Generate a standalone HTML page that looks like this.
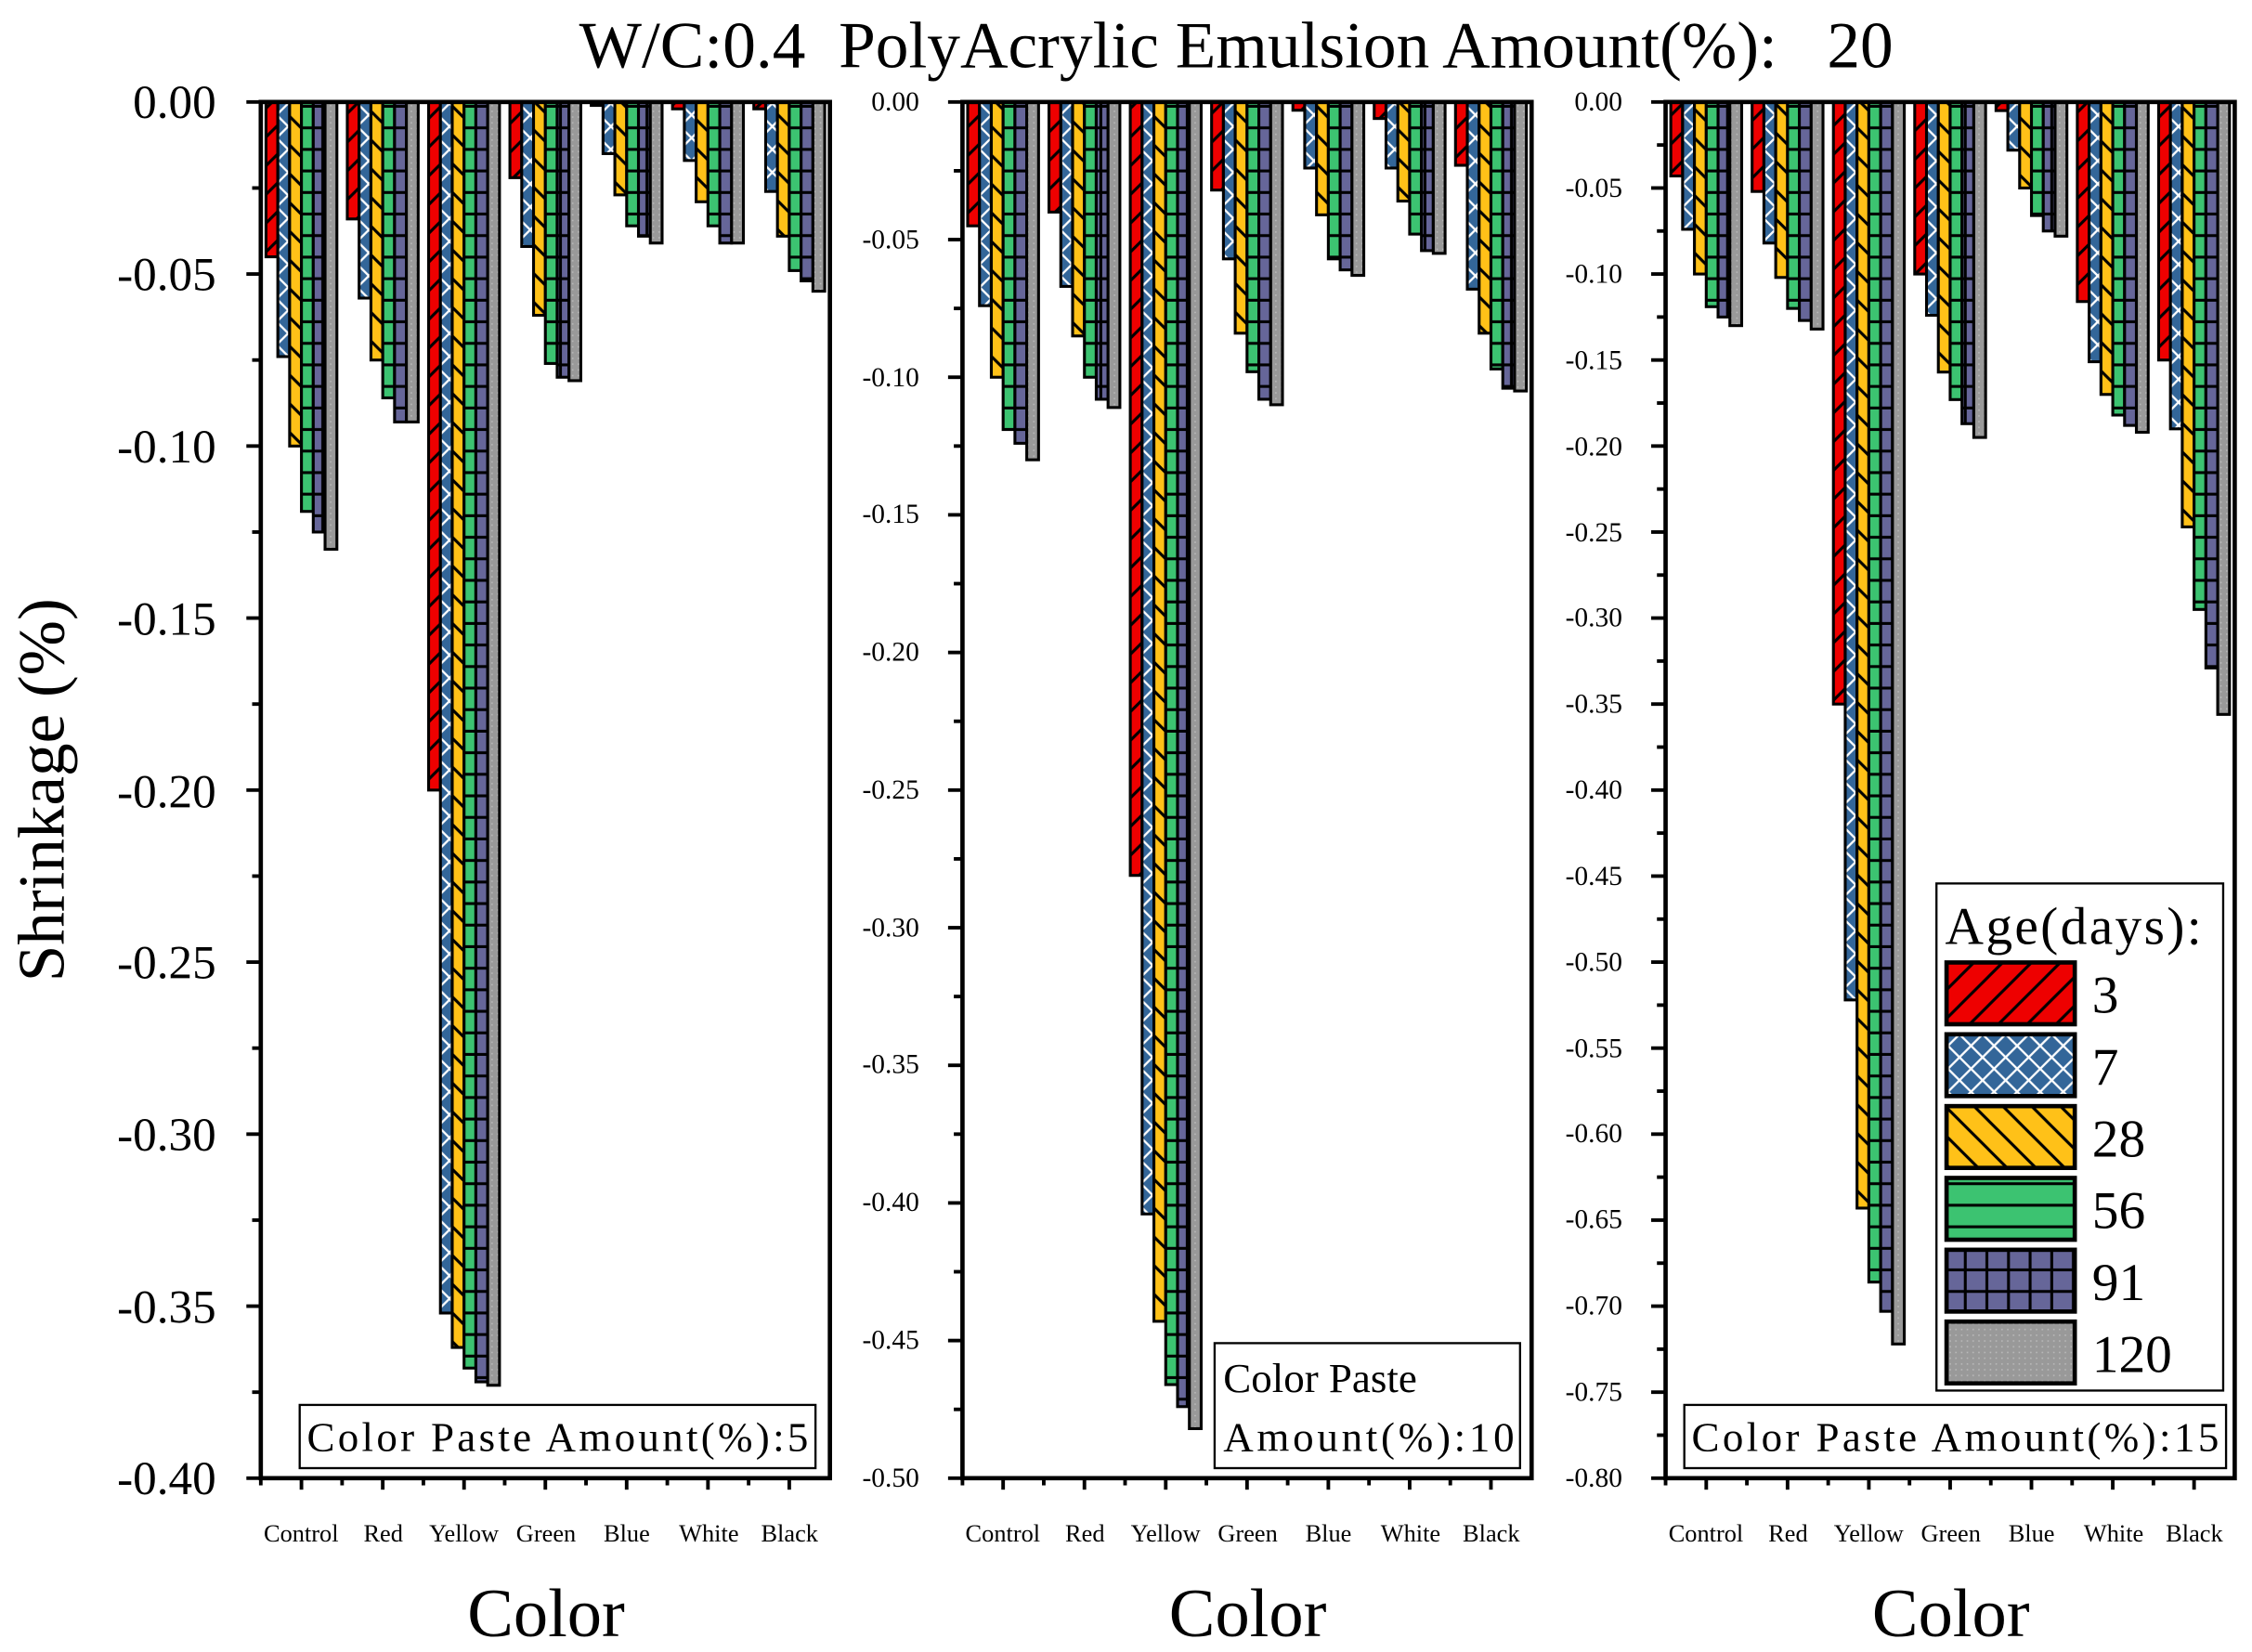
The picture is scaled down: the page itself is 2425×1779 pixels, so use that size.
<!DOCTYPE html>
<html><head><meta charset="utf-8"><style>html,body{margin:0;padding:0;background:#fff}svg{display:block}</style></head>
<body>
<svg id="s" width="2425" height="1779" viewBox="0 0 1563 1150" preserveAspectRatio="none" xmlns="http://www.w3.org/2000/svg" font-family="'Liberation Serif',serif">
<defs>
<pattern id="p0" patternUnits="userSpaceOnUse" width="20" height="20"><rect width="20" height="20" fill="#ee0000"/><path d="M-5 25L25 -5M-15 15L15 -15M5 35L35 5" stroke="#000" stroke-width="2"/></pattern>
<pattern id="p1" patternUnits="userSpaceOnUse" width="16" height="16"><rect width="16" height="16" fill="#336699"/><path d="M0 0L16 16M16 0L0 16" stroke="#fff" stroke-width="1.5"/></pattern>
<pattern id="p2" patternUnits="userSpaceOnUse" width="20" height="20"><rect width="20" height="20" fill="#ffc118"/><path d="M-5 -5L25 25M-15 5L15 35M5 -15L35 15" stroke="#000" stroke-width="2"/></pattern>
<pattern id="p3" patternUnits="userSpaceOnUse" width="20" height="15"><rect width="20" height="15" fill="#3cc371"/><path d="M0 14L20 14" stroke="#000" stroke-width="2"/></pattern>
<pattern id="p4" patternUnits="userSpaceOnUse" width="15" height="15"><rect width="15" height="15" fill="#666699"/><path d="M0 14L15 14M14 0L14 15" stroke="#000" stroke-width="2"/></pattern>
<pattern id="p5" patternUnits="userSpaceOnUse" width="4" height="4"><rect width="4" height="4" fill="#999"/><rect x="1" y="1" width="1" height="1" fill="#bbb"/></pattern>
</defs>
<g id="bars"></g>
<g id="axes" fill="none" stroke="#000" stroke-width="3">
<rect x="181" y="71" width="395" height="958"/>
<rect x="668" y="71" width="395" height="958"/>
<rect x="1156" y="71" width="395" height="958"/>
</g>
<g id="ticks" stroke="#000" stroke-width="2.5"></g>
<text x="858" y="47" font-size="46" text-anchor="middle" xml:space="preserve">W/C:0.4  PolyAcrylic Emulsion Amount(%):   20</text>
<text transform="translate(44,550) rotate(-90)" font-size="46" text-anchor="middle">Shrinkage (%)</text>
<g font-size="48" text-anchor="middle"><text x="379" y="1139">Color</text><text x="866" y="1139">Color</text><text x="1354" y="1139">Color</text></g>
<g font-size="33" text-anchor="end">
<text x="150" y="82">0.00</text><text x="150" y="202">-0.05</text><text x="150" y="322">-0.10</text><text x="150" y="442">-0.15</text><text x="150" y="562">-0.20</text><text x="150" y="681">-0.25</text><text x="150" y="801">-0.30</text><text x="150" y="921">-0.35</text><text x="150" y="1040">-0.40</text>
</g>
<g font-size="19" text-anchor="end">
<text x="638" y="77">0.00</text><text x="638" y="173">-0.05</text><text x="638" y="269">-0.10</text><text x="638" y="364">-0.15</text><text x="638" y="460">-0.20</text><text x="638" y="556">-0.25</text><text x="638" y="652">-0.30</text><text x="638" y="747">-0.35</text><text x="638" y="843">-0.40</text><text x="638" y="939">-0.45</text><text x="638" y="1035">-0.50</text>
<text x="1126" y="77">0.00</text><text x="1126" y="137">-0.05</text><text x="1126" y="197">-0.10</text><text x="1126" y="257">-0.15</text><text x="1126" y="317">-0.20</text><text x="1126" y="377">-0.25</text><text x="1126" y="436">-0.30</text><text x="1126" y="496">-0.35</text><text x="1126" y="556">-0.40</text><text x="1126" y="616">-0.45</text><text x="1126" y="676">-0.50</text><text x="1126" y="736">-0.55</text><text x="1126" y="795">-0.60</text><text x="1126" y="855">-0.65</text><text x="1126" y="915">-0.70</text><text x="1126" y="975">-0.75</text><text x="1126" y="1035">-0.80</text>
</g>
<g font-size="17" text-anchor="middle">
<text x="209" y="1073">Control</text><text x="266" y="1073">Red</text><text x="322" y="1073">Yellow</text><text x="379" y="1073">Green</text><text x="435" y="1073">Blue</text><text x="492" y="1073">White</text><text x="548" y="1073">Black</text>
<text x="696" y="1073">Control</text><text x="753" y="1073">Red</text><text x="809" y="1073">Yellow</text><text x="866" y="1073">Green</text><text x="922" y="1073">Blue</text><text x="979" y="1073">White</text><text x="1035" y="1073">Black</text>
<text x="1184" y="1073">Control</text><text x="1241" y="1073">Red</text><text x="1297" y="1073">Yellow</text><text x="1354" y="1073">Green</text><text x="1410" y="1073">Blue</text><text x="1467" y="1073">White</text><text x="1523" y="1073">Black</text>
</g>
<g fill="#fff" stroke="#000" stroke-width="1.5">
<rect x="208" y="978" width="358" height="44"/>
<rect x="843" y="935" width="212" height="87"/>
<rect x="1169" y="978" width="376" height="44"/>
<rect x="1344" y="615" width="199" height="353"/>
</g>
<g font-size="29">
<text x="213" y="1010" textLength="348">Color Paste Amount(%):5</text>
<text x="849" y="969">Color Paste</text><text x="849" y="1010" textLength="202">Amount(%):10</text>
<text x="1174" y="1010" textLength="366">Color Paste Amount(%):15</text>
</g>
<text x="1350" y="657" font-size="37" textLength="178">Age(days):</text>
<g id="leg" stroke="#000" stroke-width="3"></g>
<g font-size="37">
<text x="1452" y="705">3</text><text x="1452" y="755">7</text><text x="1452" y="805">28</text><text x="1452" y="855">56</text><text x="1452" y="905">91</text><text x="1452" y="955">120</text>
</g>
</svg>
<script>
var NS="http://www.w3.org/2000/svg";
function el(p,t,a){var e=document.createElementNS(NS,t);for(var k in a)e.setAttribute(k,a[k]);p.appendChild(e);return e;}
var data=[
[[.045,.074,.100,.119,.125,.130],[.034,.057,.075,.086,.093,.093],[.200,.352,.362,.368,.372,.373],[.022,.042,.062,.076,.080,.081],[.001,.015,.027,.036,.039,.041],[.002,.017,.029,.036,.041,.041],[.002,.026,.039,.049,.052,.055]],
[[.045,.074,.100,.119,.124,.130],[.040,.067,.085,.100,.108,.111],[.281,.404,.443,.466,.474,.482],[.032,.057,.084,.098,.108,.110],[.003,.024,.041,.057,.061,.063],[.006,.024,.036,.048,.054,.055],[.023,.068,.084,.097,.104,.105]],
[[.043,.074,.100,.119,.125,.130],[.052,.082,.102,.120,.127,.132],[.350,.522,.643,.686,.703,.722],[.100,.124,.157,.173,.187,.195],[.005,.028,.050,.066,.075,.078],[.116,.151,.170,.182,.188,.192],[.150,.190,.247,.295,.329,.356]]];
var lefts=[181,668,1156],maxs=[.4,.5,.8],T=71,B=1029,H=B-T;
var bars=document.getElementById('bars'),ticks=document.getElementById('ticks');
for(var p=0;p<3;p++){var L=lefts[p],sc=H/maxs[p];
 for(var g=0;g<7;g++){var c=L+56.43*(g+.5);
  for(var b=0;b<6;b++){var x=c-24.6+b*8.2,h=data[p][g][b]*sc;
   el(bars,'rect',{x:x,y:T,width:8.2,height:Math.max(h,1),fill:'url(#p'+b+')',stroke:'#000','stroke-width':2});}
  el(ticks,'line',{x1:c,y1:B,x2:c,y2:B+8});
  el(ticks,'line',{x1:L+56.43*g,y1:B,x2:L+56.43*g,y2:B+5});}
 var n=Math.round(maxs[p]/0.025);
 for(var i=0;i<=n;i++){var y=T+i*H/n,len=(i%2==0)?10:6;
  el(ticks,'line',{x1:L-len,y1:y,x2:L,y2:y});}}
var leg=document.getElementById('leg');
for(var b=0;b<6;b++)el(leg,'rect',{x:1351,y:670+b*50,width:89,height:43,fill:'url(#p'+b+')'});
</script>
</body></html>
